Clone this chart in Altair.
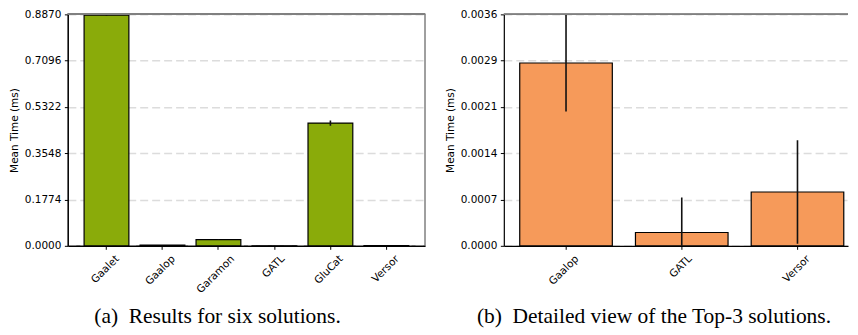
import altair as alt
import pandas as pd

# ---- data ----
all_names = ["Gaalet", "Gaalop", "Garamon", "GATL", "GluCat", "Versor"]
all_means = [0.8843, 0.0028, 0.0235, 0.0002, 0.4703, 0.0008]
all_stds = [0.0025, 0.00075, 0.0008, 0.00054, 0.0100, 0.0008]
all_ymax = 0.8870
all_ticks = [0.0, 0.1774, 0.3548, 0.5322, 0.7096, 0.8870]

top_names = ["Gaalop", "GATL", "Versor"]
top_means = [0.00282, 0.000205, 0.00083]
top_stds = [0.00075, 0.00054, 0.00080]
top_ymax = 0.00357
top_ticks = [0.0, 0.000714, 0.001428, 0.002142, 0.002856, 0.00357]

GREEN = "#8aab0a"
ORANGE = "#f69a5a"
TICK_FONT = "DejaVu Sans"
CAP_FONT = "Liberation Serif"


def make_df(names, means, stds):
    df = pd.DataFrame({"name": names, "mean": means, "std": stds})
    df["lo"] = df["mean"] - df["std"]
    df["hi"] = df["mean"] + df["std"]
    return df


def panel(df, names, ymax, ticks, color, width, pad_outer, align, caption, dx,
          offset, view_stroke):
    x = alt.X(
        "name:N",
        sort=names,
        title=None,
        scale=alt.Scale(paddingInner=0.2, paddingOuter=pad_outer, align=align),
        axis=alt.Axis(
            labelAngle=-45,
            labelAlign="right",
            labelBaseline="top",
            labelOffset={
                "condition": [
                    {"test": "datum.label === 'Garamon'", "value": 11},
                    {"test": "datum.label === 'GATL'", "value": 5},
                ],
                "value": 7.5,
            },
            labelFont=TICK_FONT,
            labelFontSize=10.5,
            labelColor="#000000",
            labelPadding=4,
            tickSize=3.5,
            tickColor="#000000",
            domainColor="#000000",
            domainWidth=1.2,
            grid=False,
        ),
    )
    y_scale = alt.Scale(domain=[0, ymax], nice=False, zero=True)
    y = alt.Y(
        "mean:Q",
        scale=y_scale,
        title="Mean Time (ms)",
        axis=alt.Axis(
            values=ticks,
            format=".4f",
            labelFont=TICK_FONT,
            labelFontSize=10.5,
            labelColor="#000000",
            labelPadding=3.5,
            tickSize=3.5,
            tickColor="#000000",
            domainColor="#000000",
            domainWidth=1.2,
            titleFont=TICK_FONT,
            titleFontSize=10.5,
            titleFontWeight="normal",
            titleColor="#000000",
            titlePadding=5,
            grid=True,
            gridColor="#dcdcdc",
            gridWidth=1.5,
            gridDash=[8, 4],
        ),
    )
    bars = alt.Chart(df).mark_bar(
        color=color, stroke="#000000", strokeWidth=1.2
    ).encode(x=x, y=y)
    err = alt.Chart(df).mark_rule(color="#111111", strokeWidth=1.6, clip=True).encode(
        x=alt.X("name:N", sort=names),
        y=alt.Y("lo:Q", scale=y_scale),
        y2="hi:Q",
    )
    top_line = alt.Chart(df).mark_rule(color="#808080", strokeWidth=1.5).encode(
        y=alt.datum(ymax)
    )
    return alt.layer(bars, err, top_line).properties(
        width=width,
        height=232,
        view=alt.ViewConfig(stroke=view_stroke, strokeWidth=1.5),
        title=alt.TitleParams(
            caption,
            orient="bottom",
            font=CAP_FONT,
            fontSize=21.5,
            fontWeight="normal",
            color="#000000",
            offset=offset,
            dx=dx,
        ),
    )


left = panel(
    make_df(all_names, all_means, all_stds),
    all_names, all_ymax, all_ticks, GREEN,
    358, 0.29, 0.5,
    "(a)\u2002Results for six solutions.", -29, 11, "#808080",
)
right = panel(
    make_df(top_names, top_means, top_stds),
    top_names, top_ymax, top_ticks, ORANGE,
    345, 0.087, 0.79,
    "(b)\u2002Detailed view of the Top-3 solutions.", -22, 19, "transparent",
)

chart = (
    alt.hconcat(left, right, spacing=17)
    .resolve_scale(x="independent", y="independent")
    .configure(padding={"left": 0, "top": 0, "right": 0, "bottom": 0})
    .configure_axis(labelFlush=False)
)

chart.save("out.html", embed_options={"renderer": "svg", "actions": False})
